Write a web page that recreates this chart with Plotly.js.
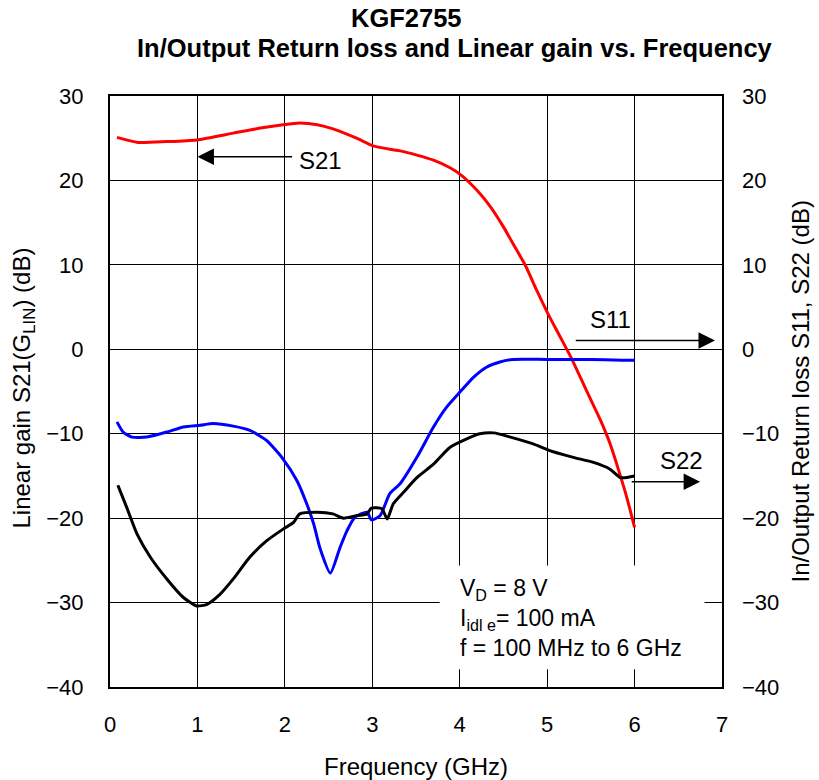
<!DOCTYPE html>
<html>
<head>
<meta charset="utf-8">
<script src="https://cdn.plot.ly/plotly-3.0.1.min.js"></script>
<style>html,body{margin:0;padding:0;background:#fff;}#chart{width:819px;height:780px;}</style>
</head>
<body>
<div id="chart"></div>
<script>
// ---- Data ----
const s21Freq = [0.08, 0.32, 0.65, 0.99, 1.41, 1.72, 1.98, 2.17, 2.37, 2.55, 2.82, 3.01, 3.2, 3.32, 3.51, 3.70, 3.89, 4.02, 4.2, 4.35, 4.5, 4.61, 4.75, 4.88, 5.01, 5.15, 5.27, 5.45, 5.61, 5.72, 5.82, 5.91, 6.0];
const s21Gain = [25.1, 24.5, 24.6, 24.8, 25.6, 26.2, 26.6, 26.8, 26.6, 26.1, 25.0, 24.1, 23.7, 23.5, 23.0, 22.4, 21.5, 20.6, 18.8, 16.9, 14.5, 12.5, 9.95, 7.0, 4.2, 1.45, -0.9, -4.9, -8.4, -11.2, -14.4, -17.5, -21.1];

const s11Freq = [0.08, 0.15, 0.25, 0.42, 0.65, 0.84, 1.03, 1.18, 1.41, 1.60, 1.79, 1.98, 2.14, 2.25, 2.33, 2.40, 2.52, 2.63, 2.71, 2.80, 2.94, 2.99, 3.09, 3.2, 3.32, 3.51, 3.70, 3.85, 4.0, 4.16, 4.31, 4.46, 4.61, 5.0, 5.5, 5.85, 6.0];
const s11Loss = [-8.6, -9.8, -10.4, -10.4, -9.8, -9.2, -9.0, -8.8, -9.1, -9.6, -10.8, -13.0, -15.6, -18.3, -20.7, -23.5, -26.5, -23.5, -21.5, -19.9, -19.3, -20.2, -19.7, -17.1, -15.9, -12.8, -9.2, -6.85, -5.1, -3.3, -2.1, -1.5, -1.2, -1.2, -1.2, -1.3, -1.3];

const s22Freq = [0.09, 0.19, 0.31, 0.46, 0.65, 0.84, 0.99, 1.11, 1.26, 1.41, 1.60, 1.79, 1.98, 2.10, 2.17, 2.37, 2.55, 2.67, 2.82, 2.94, 2.99, 3.11, 3.17, 3.24, 3.36, 3.51, 3.70, 3.89, 4.08, 4.23, 4.39, 4.58, 4.84, 5.03, 5.30, 5.53, 5.72, 5.84, 6.0];
const s22Loss = [-16.1, -18.7, -21.9, -24.6, -27.2, -29.4, -30.4, -30.2, -29.0, -27.2, -24.6, -22.7, -21.3, -20.5, -19.5, -19.3, -19.5, -20.0, -19.7, -19.5, -18.8, -18.9, -20.1, -18.3, -16.9, -15.2, -13.6, -11.6, -10.6, -10.0, -9.9, -10.4, -11.2, -12.0, -12.8, -13.4, -14.2, -15.2, -15.0];

const xTicks = [0, 1, 2, 3, 4, 5, 6, 7];
const yTicks = [-40, -30, -20, -10, 0, 10, 20, 30];

const FONT = '"Liberation Sans", Arial, sans-serif';

const traces = [
  {x: s21Freq, y: s21Gain, mode: 'lines', line: {color: '#ff0000', width: 3, shape: 'spline', smoothing: 0.6}, yaxis: 'y', name: 'S21'},
  {x: s11Freq, y: s11Loss, mode: 'lines', line: {color: '#0000ff', width: 3, shape: 'spline', smoothing: 0.6}, yaxis: 'y2', name: 'S11'},
  {x: s22Freq, y: s22Loss, mode: 'lines', line: {color: '#000000', width: 3, shape: 'spline', smoothing: 0.6}, yaxis: 'y2', name: 'S22'}
];

const arrowStyle = {showarrow: true, arrowhead: 2, arrowsize: 2.2, arrowwidth: 1.5, arrowcolor: '#000', axref: 'x', ayref: 'y', xref: 'x', yref: 'y', text: ''};

const layout = {
  width: 819, height: 780,
  margin: {l: 110, r: 97, t: 96, b: 93},
  paper_bgcolor: '#fff', plot_bgcolor: '#fff',
  showlegend: false,
  font: {family: FONT, size: 22, color: '#000'},
  xaxis: {
    range: [0, 7], tickvals: xTicks, ticks: '', showgrid: true, gridcolor: '#000', gridwidth: 1,
    zeroline: false, showline: true, linecolor: '#000', linewidth: 2, mirror: true,
    ticklabelstandoff: 17, tickfont: {size: 22}
  },
  yaxis: {
    range: [-40, 30], tickvals: yTicks, ticks: '', showgrid: true, gridcolor: '#000', gridwidth: 1,
    zeroline: false, showline: true, linecolor: '#000', linewidth: 2, mirror: true,
    ticklabelstandoff: 20, tickfont: {size: 22}
  },
  yaxis2: {
    range: [-40, 30], tickvals: yTicks, ticks: '', overlaying: 'y', side: 'right', showgrid: false,
    zeroline: false, showline: false, ticklabelstandoff: 19, tickfont: {size: 22}
  },
  shapes: [
    {type: 'rect', xref: 'x', yref: 'y', x0: 3.77, x1: 6.8, y0: -37.9, y1: -25.6, fillcolor: '#fff', line: {width: 0}, layer: 'between'}
  ],
  annotations: [
    {xref: 'paper', yref: 'paper', x: (406 - 110) / 612, y: 1, yshift: 78, text: '<b>KGF2755</b>', showarrow: false, font: {size: 25.5}, xanchor: 'center', yanchor: 'middle'},
    {xref: 'paper', yref: 'paper', x: (455 - 110) / 612, y: 1, yshift: 48, text: '<b>In/Output Return loss and Linear gain vs. Frequency</b>', showarrow: false, font: {size: 25.5}, xanchor: 'center', yanchor: 'middle'},
    {xref: 'paper', yref: 'paper', x: 0.5, y: 0, yshift: -79, text: 'Frequency (GHz)', showarrow: false, font: {size: 24}, xanchor: 'center', yanchor: 'middle'},
    {xref: 'paper', yref: 'paper', x: 0, xshift: -86, y: 0.505, text: 'Linear gain S21(G<sub>LIN</sub>) (dB)', textangle: -90, showarrow: false, font: {size: 24}, xanchor: 'center', yanchor: 'middle'},
    {xref: 'paper', yref: 'paper', x: 1, xshift: 78, y: 0.5, text: 'In/Output Return loss S11, S22 (dB)', textangle: -90, showarrow: false, font: {size: 24}, xanchor: 'center', yanchor: 'middle'},
    Object.assign({}, arrowStyle, {x: 1.0, y: 22.8, ax: 2.1, ay: 22.8}),
    {xref: 'x', yref: 'y', x: 2.14, y: 22.4, text: 'S21', showarrow: false, xanchor: 'left', yanchor: 'middle', font: {size: 24}},
    Object.assign({}, arrowStyle, {x: 6.92, y: 1.05, ax: 5.31, ay: 1.05}),
    {xref: 'x', yref: 'y', x: 5.47, y: 3.55, text: 'S11', showarrow: false, xanchor: 'left', yanchor: 'middle', font: {size: 24}},
    Object.assign({}, arrowStyle, {x: 6.75, y: -15.7, ax: 5.95, ay: -15.7}),
    {xref: 'x', yref: 'y', x: 6.27, y: -13.2, text: 'S22', showarrow: false, xanchor: 'left', yanchor: 'middle', font: {size: 24}},
    {xref: 'x', yref: 'y', x: 3.98, y: -31.8, text: 'V<sub>D</sub> = 8 V<br>I<sub>idl e</sub>= 100 mA<br>f = 100 MHz to 6 GHz', showarrow: false, xanchor: 'left', yanchor: 'middle', align: 'left', font: {size: 23}}
  ]
};

Plotly.newPlot('chart', traces, layout, {displayModeBar: false, staticPlot: true});
</script>
</body>
</html>
